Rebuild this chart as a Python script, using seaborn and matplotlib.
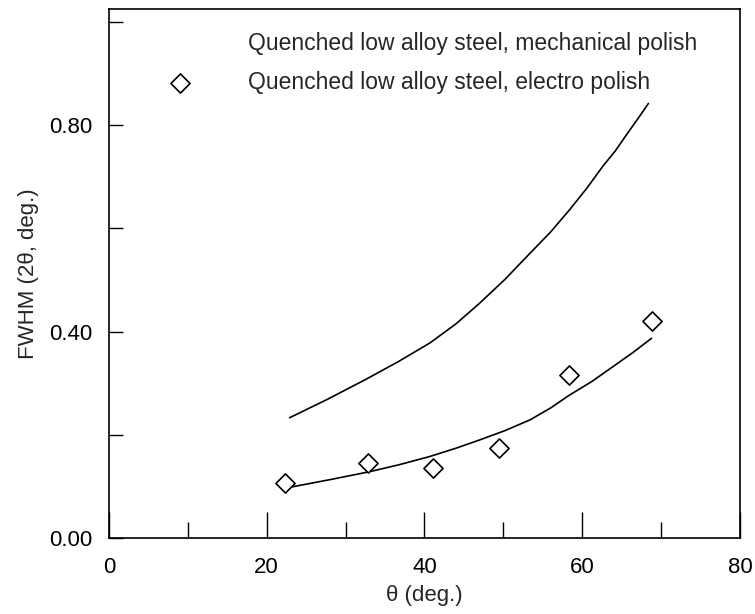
import matplotlib
matplotlib.use("Agg")
import matplotlib.pyplot as plt
import seaborn as sns
import pandas as pd

# Measured peak widths, electro-polished specimen
theta_pts = [22.3, 32.9, 41.1, 49.4, 58.3, 68.9]
fwhm_pts = [0.106, 0.145, 0.135, 0.175, 0.316, 0.421]

# Fitted trend, electro polish
theta_electro = [23.2, 28.0, 32.9, 36.8, 40.7, 44.0, 47.0, 50.2, 53.4, 56.0, 58.4, 61.2, 63.9, 66.4, 68.8]
fwhm_electro = [0.099, 0.113, 0.128, 0.142, 0.158, 0.174, 0.190, 0.208, 0.229, 0.252, 0.277, 0.303, 0.332, 0.359, 0.387]

# Fitted trend, mechanical polish
theta_mech = [22.9, 27.6, 32.4, 36.6, 40.7, 44.0, 47.0, 50.2, 53.4, 56.0, 58.4, 60.6, 62.6, 64.2, 65.6, 67.0, 68.4]
fwhm_mech = [0.233, 0.268, 0.306, 0.341, 0.378, 0.415, 0.455, 0.501, 0.552, 0.593, 0.636, 0.678, 0.720, 0.750, 0.781, 0.811, 0.842]

x_ticklabels = ["0", "20", "40", "60", "80"]
y_ticklabels = ["0.00", "0.40", "0.80"]

label_mech = "Quenched low alloy steel, mechanical polish"
label_electro = "Quenched low alloy steel, electro polish"

sns.set_theme(style="white")
plt.rcParams["font.family"] = ["Liberation Sans", "DejaVu Sans"]

fig = plt.figure(figsize=(7.55, 6.14), dpi=100)
ax = fig.add_axes([0.1444, 0.1238, 0.8356, 0.8615])

df_mech = pd.DataFrame({"theta": theta_mech, "fwhm": fwhm_mech})
df_el = pd.DataFrame({"theta": theta_electro, "fwhm": fwhm_electro})
df_pts = pd.DataFrame({"theta": theta_pts, "fwhm": fwhm_pts})

sns.lineplot(data=df_mech, x="theta", y="fwhm", ax=ax, color="black",
             lw=1.2, label=label_mech, sort=True)
sns.lineplot(data=df_el, x="theta", y="fwhm", ax=ax, color="black",
             lw=1.2, legend=False, sort=True)
sns.scatterplot(data=df_pts, x="theta", y="fwhm", ax=ax, marker="D",
                s=95, facecolor="white", edgecolor="black", linewidth=1.2,
                label=label_electro, zorder=3)

ax.set_xlim(0, 80)
ax.set_ylim(0, 1.025)

ax.set_xticks([0, 20, 40, 60, 80])
ax.set_xticklabels(x_ticklabels)
ax.set_xticks([10, 30, 50, 70], minor=True)
ax.set_yticks([0.0, 0.4, 0.8])
ax.set_yticklabels(y_ticklabels)
ax.set_yticks([0.2, 0.6, 1.0], minor=True)

ax.tick_params(axis="both", which="both", direction="in", colors="black",
               labelsize=16, width=1.0)
ax.tick_params(axis="x", which="major", length=19, pad=14)
ax.tick_params(axis="x", which="minor", length=11.5)
ax.tick_params(axis="y", which="both", length=10, pad=12)
ax.tick_params(bottom=True, left=True, top=False, right=False, which="both")

# the 30-degree mark is printed faintly
ax.xaxis.get_minor_ticks()[1].tick1line.set_color("#b5b5b5")

for sp in ax.spines.values():
    sp.set_visible(True)
    sp.set_color("black")
    sp.set_linewidth(1.2)

ax.set_xlabel("\u03b8 (deg.)", fontsize=16, labelpad=5)
ax.set_ylabel("FWHM (2\u03b8, deg.)", fontsize=16, labelpad=7)

leg = ax.legend(loc="upper left", bbox_to_anchor=(0.076, 0.9745), frameon=False,
                fontsize=16.5, handlelength=1.2, handletextpad=2.37,
                labelspacing=0.7, borderaxespad=0.0)
leg.legend_handles[0].set_visible(False)

fig.savefig("out.png", dpi=100)
